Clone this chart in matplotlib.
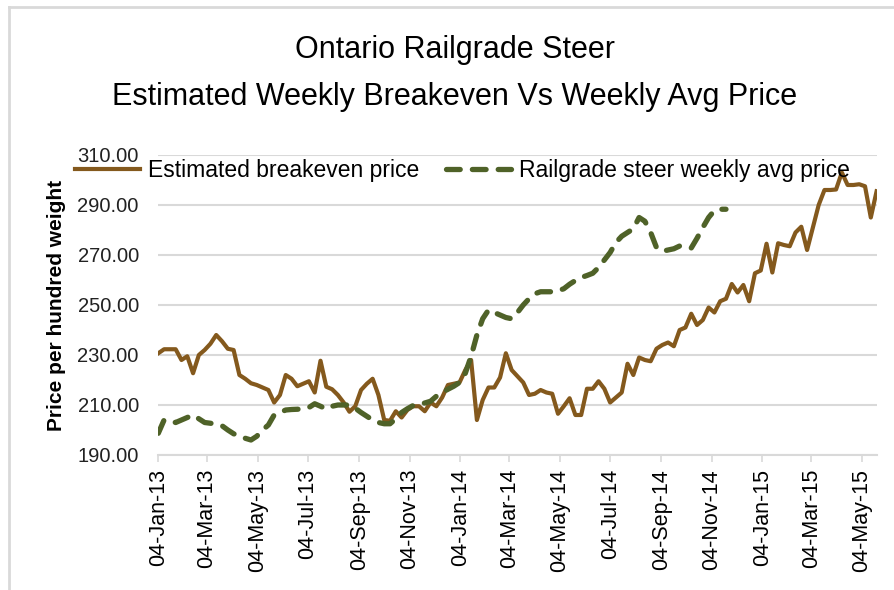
import numpy as np
import pandas as pd
import matplotlib
matplotlib.use("Agg")
from matplotlib import pyplot as plt
import matplotlib.dates as mdates
from matplotlib.lines import Line2D

# weekly data, starting 04-Jan-2013
breakeven = [
    230.7, 232.3, 232.3, 232.3, 228.0, 229.5, 222.7, 230.0, 232.0, 234.5,
    238.0, 235.5, 232.5, 232.0, 222.0, 220.5, 218.7, 218.0, 217.0, 216.0,
    211.0, 214.0, 222.0, 220.5, 217.5, 218.5, 219.5, 215.0, 227.7, 217.3,
    216.3, 214.0, 211.0, 207.3, 209.5, 216.0, 218.5, 220.5, 214.0, 204.0,
    203.7, 207.5, 205.0, 208.0, 209.5, 209.5, 207.5, 211.0, 209.5, 213.0,
    218.0, 218.5, 219.0, 224.0, 228.0, 204.0, 212.0, 217.0, 217.0, 221.0,
    230.7, 224.0, 221.5, 219.0, 214.0, 214.5, 216.0, 215.0, 214.5, 206.5,
    209.5, 212.7, 206.0, 206.0, 216.5, 216.5, 219.5, 216.5, 211.0, 213.0,
    215.0, 226.5, 222.0, 229.0, 228.0, 227.5, 232.5, 234.0, 235.0, 233.5,
    240.0, 241.0, 246.5, 242.0, 244.0, 249.0, 247.0, 251.5, 252.5, 258.4,
    255.0, 258.0, 251.5, 262.7, 263.8, 274.5, 263.0, 274.7, 274.0, 273.5,
    279.0, 281.3, 272.0, 281.0, 290.0, 296.0, 296.0, 296.2, 303.0, 298.0,
    298.0, 298.3, 297.5, 285.0, 295.5,
]
railgrade = [
    198.7, 204.0, 203.5, 203.0, 204.0, 205.0, 206.0, 204.5, 203.0, 202.7,
    202.3, 201.7, 200.0, 198.5, 197.5, 196.7, 196.0, 197.5, 200.0, 202.0,
    206.0, 207.0, 208.0, 208.2, 208.3, 208.4, 209.0, 210.5, 209.5, 208.4,
    209.5, 210.0, 210.0, 210.0, 208.7, 207.0, 205.5, 204.0, 203.0, 202.5,
    202.5, 204.5, 207.0, 208.5, 209.8, 210.3, 210.8, 211.5, 213.5, 215.0,
    216.3, 217.5, 219.0, 222.7, 229.5, 238.0, 244.5, 248.0, 247.0, 246.0,
    245.0, 244.5, 247.0, 250.0, 252.5, 254.5, 255.3, 255.3, 255.3, 255.7,
    256.5, 258.3, 259.8, 261.0, 261.8, 262.7, 265.0, 268.0, 271.0, 275.0,
    277.5, 279.0, 280.5, 285.0, 283.5, 279.0, 273.0, 271.5, 272.0, 272.5,
    273.6, 273.0, 272.8, 276.7, 281.0, 285.0, 287.8, 288.3, 288.3,
]
weeks = pd.date_range("2013-01-04", periods=len(breakeven), freq="7D")

title_lines = ["Ontario Railgrade Steer", "Estimated Weekly Breakeven Vs Weekly Avg Price"]
ylabel = "Price per hundred weight"
series_names = ["Estimated breakeven price", "Railgrade steer weekly avg price"]

brown = "#84591d"
green = "#4f6228"
grid = "#d9d9d9"

fig = plt.figure(figsize=(8.95, 5.9), dpi=100)
W, H = 895, 590
ax = fig.add_axes([158.3 / W, 1 - 455 / H, (876.6 - 158.3) / W, 300 / H])

ax.plot(weeks, breakeven, color=brown, lw=3.0, solid_joinstyle="round",
        label=series_names[0], zorder=3)
ax.plot(weeks[:len(railgrade)], railgrade, color=green, lw=3.8,
        dashes=(2.6, 2.3), dash_capstyle="round", label=series_names[1], zorder=3)

ax.set_ylim(190, 310)
ax.set_yticks(np.arange(190, 311, 20))
ax.yaxis.set_major_formatter(plt.FuncFormatter(lambda v, p: f"{v:.2f}"))
ax.set_xlim(weeks[0], weeks[-1])
ax.xaxis.set_major_locator(mdates.MonthLocator(bymonth=[1, 3, 5, 7, 9, 11], bymonthday=4))
ax.xaxis.set_major_formatter(mdates.DateFormatter("%d-%b-%y"))

ax.grid(axis="y", color=grid, lw=1.5)
ax.set_axisbelow(True)
for s in ["left", "right", "top"]:
    ax.spines[s].set_visible(False)
ax.spines["bottom"].set_color(grid)
ax.spines["bottom"].set_linewidth(1.5)

ax.tick_params(axis="y", length=0, pad=14, labelsize=14.5, labelcolor="#222222")
ax.tick_params(axis="x", length=5, width=1.2, color=grid, pad=5, labelsize=15.5,
               labelrotation=90)
for t in ax.get_yticklabels() + ax.get_xticklabels():
    t.set_fontfamily("Liberation Sans")

fig.text(57 / W, 1 - 305 / H, ylabel, rotation=90, ha="center", va="center",
         fontsize=15, fontweight="bold", family="Liberation Sans")

fig.text(455 / W, 1 - 58 / H, title_lines[0], ha="center", va="baseline",
         fontsize=22, family="Liberation Sans")
fig.text(455 / W, 1 - 105 / H, title_lines[1], ha="center", va="baseline",
         fontsize=22, family="Liberation Sans")

fig.legend(loc="center left", bbox_to_anchor=(75 / W, 1 - 171 / H), ncol=2,
           frameon=False, borderpad=0, borderaxespad=0, handlelength=2.85,
           handletextpad=0.35, columnspacing=1.15,
           prop={"family": "Liberation Sans", "size": 16.5})

# chart area border (left and top only visible)
fig.add_artist(Line2D([9 / W, 9 / W], [0, 1 - 7 / H], color=grid, lw=2))
fig.add_artist(Line2D([9 / W, 1], [1 - 7 / H, 1 - 7 / H], color=grid, lw=2))

fig.savefig("out.png", dpi=100)
